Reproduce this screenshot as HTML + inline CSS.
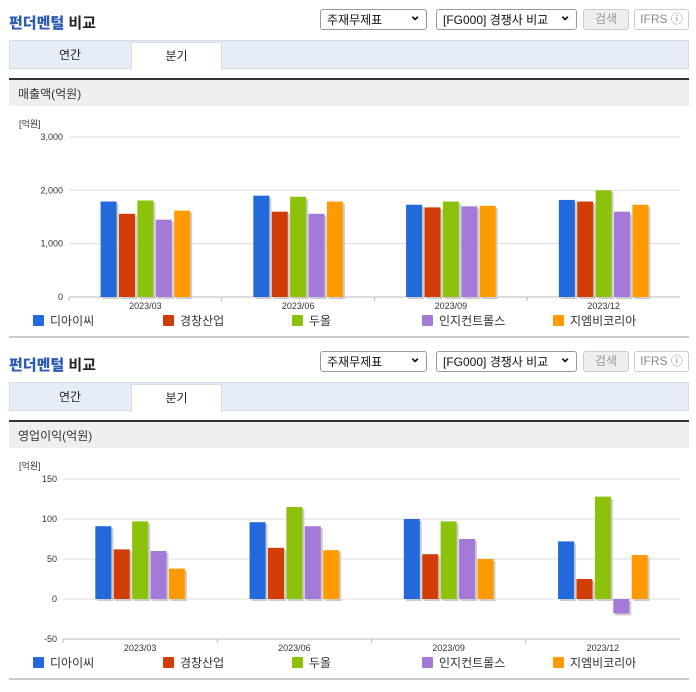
<!DOCTYPE html>
<html><head><meta charset="utf-8">
<style>
body{margin:0;width:696px;height:684px;background:#fff;font-family:"Liberation Sans","Noto Sans CJK KR",sans-serif;position:relative;overflow:hidden}
.abs{position:absolute}
.title{font-size:15px;font-weight:bold;color:#222;left:9px}
.title b{color:#2d5bb8}
.sel{border:1px solid #999;border-radius:3px;height:21px;font-size:12px;line-height:21px;padding-left:6px;box-sizing:border-box;background:#fff;color:#111}
.sel:after{content:"⌄";position:absolute;right:5px;top:-5px;font-weight:bold;font-size:14px}
.btn{border:1px solid #ccc;border-radius:3px;height:21px;font-size:12px;line-height:19px;text-align:center;box-sizing:border-box;color:#999}
.tabs{left:9px;width:680px;height:29px;background:#e6edf7;border:1px solid #d5dce8;box-sizing:border-box}
.tab{font-size:12px;text-align:center;line-height:30px;color:#222}
.sec{left:9px;width:680px;height:28px;background:#efefef;border-top:2px solid #333;font-size:12px;line-height:28px;padding-left:9px;box-sizing:border-box;color:#333}
.bot{left:9px;width:680px;height:2px;background:#ccc}
svg text{font-family:"Liberation Sans","Noto Sans CJK KR",sans-serif}
</style></head><body>
<div id="root"></div>
<script>
const categories=["2023/03","2023/06","2023/09","2023/12"];
const seriesNames=["디아이씨","경창산업","두올","인지컨트롤스","지엠비코리아"];
const colors=["#2369dc","#d23c06","#8cc10c","#a47ad8","#ff9b00"];
const sales_dic=[1790,1900,1730,1820];
const sales_kc=[1560,1600,1680,1790];
const sales_du=[1810,1880,1790,2000];
const sales_inz=[1450,1560,1700,1600];
const sales_gm=[1620,1790,1710,1730];
const op_dic=[91,96,100,72];
const op_kc=[62,64,56,25];
const op_du=[97,115,97,128];
const op_inz=[60,91,75,-18];
const op_gm=[38,61,50,55];
const salesTicks=[0,1000,2000,3000];
const salesTickLabels=["0","1,000","2,000","3,000"];
const opTicks=[-50,0,50,100,150];
const opTickLabels=["-50","0","50","100","150"];

const root=document.getElementById('root');
function mk(tag,cls,name,inter,css,txt){const e=document.createElement(tag);if(cls)e.className=cls;


if(css)e.style.cssText=css;if(txt!=null)e.innerHTML=txt;root.appendChild(e);return e;}
const NS="http://www.w3.org/2000/svg";
function block(off,secTitle,series,ticks,tickLabels,plotX,ymin,ymax,pfx){
  mk('div','abs title',pfx+'title','false','top:'+(12+off)+'px','<b>펀더멘털</b> 비교');
  mk('div','abs sel',pfx+'report-select','true','left:320px;top:'+(9+off)+'px;width:107px','주재무제표');
  mk('div','abs sel',pfx+'compare-select','true','left:436px;top:'+(9+off)+'px;width:141px','[FG000] 경쟁사 비교');
  mk('div','abs btn',pfx+'search-button','true','left:583px;top:'+(9+off)+'px;width:46px;background:#eee','검색');
  mk('div','abs btn',pfx+'ifrs-button','true','left:634px;top:'+(9+off)+'px;width:55px;color:#888','IFRS ⓘ');
  mk('div','abs tabs',pfx+'tab-bar','false','top:'+(40+off)+'px');
  mk('div','abs tab',pfx+'annual-tab','true','left:9px;top:'+(40+off)+'px;width:122px','연간');
  mk('div','abs tab',pfx+'quarter-tab','true','left:131px;top:'+(42+off)+'px;width:91px;height:28px;background:#fff;border:1px solid #d5dce8;border-bottom:none;box-sizing:border-box;line-height:26px','분기');
  mk('div','abs sec',pfx+'section-header','false','top:'+(78+off)+'px',secTitle);
  mk('div','abs bot',pfx+'bottom-rule','false','top:'+(336+off)+'px');
  const svg=document.createElementNS(NS,'svg');
  
  
  svg.setAttribute('width',696);svg.setAttribute('height',240);
  svg.style.cssText='position:absolute;left:0;top:'+(110+off)+'px';
  root.appendChild(svg);
  const top=137-110,bot=297-110,right=680;
  const y=v=>bot-(v-ymin)/(ymax-ymin)*(bot-top);
  function el(t,a,name,txt){const e=document.createElementNS(NS,t);for(const k in a)e.setAttribute(k,a[k]);
    
    
    if(txt!=null)e.textContent=txt;svg.appendChild(e);return e;}
  el('text',{x:19,y:top-10,'font-size':9,fill:'#333'},'y-axis-unit','[억원]');
  ticks.forEach((t,i)=>{
    if(t!==ymin)el('line',{x1:plotX,x2:right,y1:y(t),y2:y(t),stroke:'#ddd'},'gridline');
    el('text',{x:plotX-6,y:y(t)+3,'font-size':9,fill:'#333','text-anchor':'end'},'y-tick-label',tickLabels[i]);
  });
  el('line',{x1:plotX,x2:right,y1:bot,y2:bot,stroke:'#bbb'},'x-axis');
  const cw=(right-plotX)/categories.length;
  const bw=16,step=18.4;
  categories.forEach((c,i)=>{
    const cx=plotX+cw*(i+0.5);
    el('line',{x1:plotX+cw*i,x2:plotX+cw*i,y1:bot,y2:bot+4,stroke:'#bbb'},'x-tick');
    el('text',{x:cx,y:bot+12,'font-size':9,fill:'#333','text-anchor':'middle'},'x-tick-label',c);
    series.forEach((s,j)=>{
      const x0=cx-2*step-bw/2+j*step;
      const v=s[i],y1=Math.min(y(v),y(0)),h=Math.abs(y(v)-y(0));
      el('rect',{x:x0+2,y:y1+2,width:bw,height:h,fill:'#ccc'},'bar-shadow');
      el('rect',{x:x0,y:y1,width:bw,height:h,fill:colors[j]},'bar-'+seriesNames[j]+'-'+c);
    });
  });
  const lx=[33,163,292,422,553];
  seriesNames.forEach((n,j)=>{
    el('rect',{x:lx[j],y:321-110-6,width:11,height:11,rx:1,fill:colors[j]},'legend-swatch');
    el('text',{x:lx[j]+17,y:321-110+4,'font-size':12,fill:'#333'},'legend-entry',n);
  });
}
block(0,'매출액(억원)',[sales_dic,sales_kc,sales_du,sales_inz,sales_gm],salesTicks,salesTickLabels,69,0,3000,'sales-');
block(342,'영업이익(억원)',[op_dic,op_kc,op_du,op_inz,op_gm],opTicks,opTickLabels,63,-50,150,'op-');
</script>
</body></html>
